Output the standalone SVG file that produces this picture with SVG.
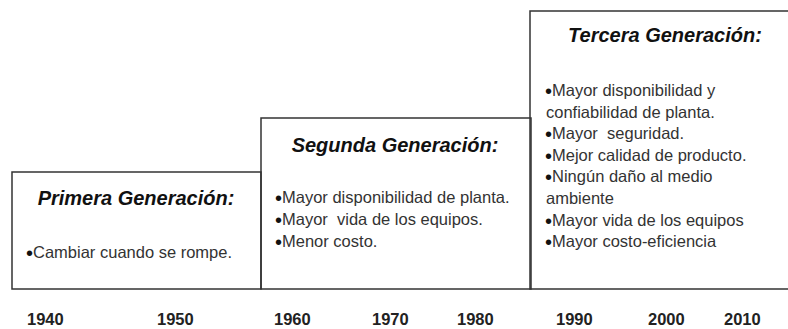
<svg xmlns="http://www.w3.org/2000/svg" width="788" height="329" viewBox="0 0 788 329">
<style>
.box{fill:none;stroke:#333;stroke-width:1.5}
.title{font-family:"Liberation Sans",Arial,sans-serif;font-weight:bold;font-style:italic;font-size:20px;fill:#111;text-anchor:middle}
.item{font-family:"Liberation Sans",Arial,sans-serif;font-size:16.5px;fill:#333;white-space:pre}
.b{font-size:20px;fill:#111;baseline-shift:-1.7px}
.year{font-family:"Liberation Sans",Arial,sans-serif;font-weight:bold;font-size:16.5px;fill:#222}
</style>
<rect width="788" height="329" fill="#fff"/>
<g id="primera">
<rect class="box" x="12" y="172" width="249" height="117"/>
<text class="title" x="136" y="205">Primera Generación:</text>
<text class="item" x="26" y="258"><tspan class="b">•</tspan>Cambiar cuando se rompe.</text>
</g>
<g id="segunda">
<rect class="box" x="261" y="118" width="270" height="171"/>
<text class="title" x="395" y="152">Segunda Generación:</text>
<text class="item" x="275" y="203"><tspan class="b">•</tspan>Mayor disponibilidad de planta.</text>
<text class="item" x="275" y="225"><tspan class="b">•</tspan>Mayor  vida de los equipos.</text>
<text class="item" x="275" y="247"><tspan class="b">•</tspan>Menor costo.</text>
</g>
<g id="tercera">
<path class="box" d="M789,11 H530 V289 H789"/>
<text class="title" x="665" y="42">Tercera Generación:</text>
<text class="item" x="545" y="96"><tspan class="b">•</tspan>Mayor disponibilidad y</text>
<text class="item" x="546" y="118">confiabilidad de planta.</text>
<text class="item" x="545" y="139"><tspan class="b">•</tspan>Mayor  seguridad.</text>
<text class="item" x="545" y="161"><tspan class="b">•</tspan>Mejor calidad de producto.</text>
<text class="item" x="545" y="182"><tspan class="b">•</tspan>Ningún daño al medio</text>
<text class="item" x="546" y="204">ambiente</text>
<text class="item" x="545" y="226"><tspan class="b">•</tspan>Mayor vida de los equipos</text>
<text class="item" x="545" y="247"><tspan class="b">•</tspan>Mayor costo-eficiencia</text>
</g>
<g id="timeline">
<text class="year" x="27" y="325">1940</text>
<text class="year" x="157" y="325">1950</text>
<text class="year" x="274" y="325">1960</text>
<text class="year" x="372" y="325">1970</text>
<text class="year" x="457" y="325">1980</text>
<text class="year" x="556" y="325">1990</text>
<text class="year" x="648" y="325">2000</text>
<text class="year" x="724" y="325">2010</text>
</g>
<g id="connectors"/>
</svg>
